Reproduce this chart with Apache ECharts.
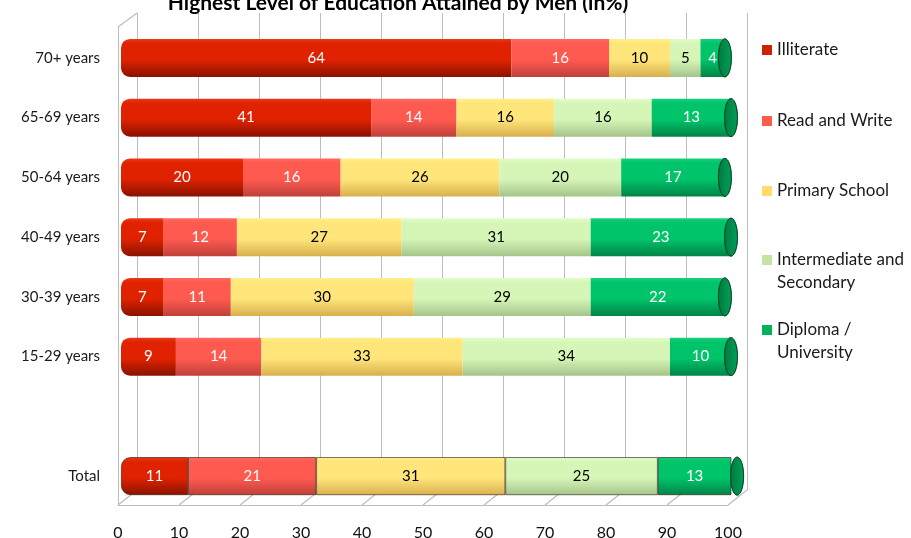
<!DOCTYPE html>
<html>
<head>
<meta charset="utf-8">
<script src="https://cdn.jsdelivr.net/npm/echarts@6/dist/echarts.min.js"></script>
<style>html,body{margin:0;padding:0;background:#fff}#c{width:911px;height:538px}</style>
</head>
<body>
<div id="c"></div>
<script>
// ---- data ----
const categories = ['70+ years', '65-69 years', '50-64 years', '40-49 years', '30-39 years', '15-29 years', '', 'Total'];
const seriesNames = ['Illiterate', 'Read and Write', 'Primary School', 'Intermediate and Secondary', 'Diploma / University'];
const illiterate   = [64, 41, 20, 7, 7, 9, null, 11];
const readWrite    = [16, 14, 16, 12, 11, 14, null, 21];
const primary      = [10, 16, 26, 27, 30, 33, null, 31];
const intermediate = [5, 16, 20, 31, 29, 34, null, 25];
const diploma      = [4, 13, 17, 23, 22, 10, null, 13];
const xTicks = [0, 10, 20, 30, 40, 50, 60, 70, 80, 90, 100];

// ---- styles ----
const FONT = 'Lato, "Open Sans", sans-serif';
const palette = [
  {top: '#ea3a1c', base: '#e02200', bot: '#8a1200', legend: '#cc2200', label: '#fff'},
  {top: '#ff6a60', base: '#ff5a50', bot: '#c0403a', legend: '#ff5b4f', label: '#fff'},
  {top: '#fff08a', base: '#ffe57a', bot: '#d8b04e', legend: '#ffdb6b', label: '#000'},
  {top: '#e4fcc8', base: '#d6f6b8', bot: '#a4c48a', legend: '#c5e3a5', label: '#000'},
  {top: '#18d07c', base: '#00c46a', bot: '#008448', legend: '#00b25a', label: '#fff'}
];
function grad(p) {
  return new echarts.graphic.LinearGradient(0, 0, 0, 1, [
    {offset: 0, color: p.top}, {offset: 0.12, color: p.base},
    {offset: 0.55, color: p.base}, {offset: 1, color: p.bot}
  ]);
}
const values = [illiterate, readWrite, primary, intermediate, diploma];
const totals = categories.map((c, i) => values.reduce((s, arr) => s + (arr[i] || 0), 0));

const TOTAL_IDX = categories.indexOf('Total');
const series = values.map((arr, k) => ({
  name: seriesNames[k],
  type: 'bar',
  stack: 'all',
  xAxisIndex: 1, yAxisIndex: 1,
  barWidth: 38,
  z: 3,
  data: arr.map((v, i) => {
    if (v == null) return '-';
    const d = {value: v};
    if (i === TOTAL_IDX) d.itemStyle = {borderColor: 'rgba(40,20,10,0.75)', borderWidth: 0.8};
    return d;
  }),
  itemStyle: {color: grad(palette[k]), borderRadius: k === 0 ? [9, 0, 0, 9] : 0},
  label: {show: true, position: 'inside', color: palette[k].label, fontFamily: FONT, fontSize: 15},
  emphasis: {disabled: true}
}));
// cylinder end caps at each bar's total
series.push({
  type: 'custom', name: 'cap', xAxisIndex: 1, yAxisIndex: 1, silent: true, z: 4,
  data: totals.map((t, i) => t ? [t, i] : null).filter(Boolean),
  renderItem: function (params, api) {
    const p = api.coord([api.value(0), api.value(1)]);
    return {type: 'ellipse', shape: {cx: p[0], cy: p[1], rx: 6.5, ry: 19},
      style: {fill: new echarts.graphic.LinearGradient(0, 0, 1, 0, [
        {offset: 0, color: '#007a40'}, {offset: 1, color: '#00a058'}]),
        stroke: '#004a24', lineWidth: 0.8}};
  }
});

const legendTops = [38.5, 109.5, 179.5, 225.5, 295.5];
const legendLabels = ['Illiterate', 'Read and Write', 'Primary School', ' \nIntermediate and\nSecondary', ' \nDiploma /\nUniversity'];
const legends = seriesNames.map((n, k) => ({
  left: 762, top: legendTops[k], padding: 0, orient: 'vertical',
  icon: 'rect', itemWidth: 10, itemHeight: 10, selectedMode: false,
  data: [{name: n, itemStyle: {color: palette[k].legend}}],
  formatter: () => legendLabels[k],
  textStyle: {fontFamily: FONT, fontSize: 17, color: '#1a1a1a', lineHeight: 23}
}));

const GRAY = '#bdbdbd';
const chart = echarts.init(document.getElementById('c'));
chart.setOption({
  animation: false,
  title: {text: 'Highest Level of Education Attained by Men (in%)', left: 393, textAlign: 'center', top: -12,
    textStyle: {fontFamily: FONT, fontSize: 21, fontWeight: 'bold', color: '#000'}},
  legend: legends,
  grid: [
    {left: 137, right: 164, top: 13, bottom: 48, outerBoundsMode: 'none'},   // back wall
    {left: 121, right: 180, top: 28, bottom: 32, outerBoundsMode: 'none'},   // bars
    {left: 118, right: 183, top: 27, bottom: 33, outerBoundsMode: 'none'}    // front plane / labels
  ],
  xAxis: [
    {gridIndex: 0, type: 'value', min: 0, max: 100, interval: 10, axisLabel: {show: false},
      axisLine: {show: false}, axisTick: {show: false}, splitLine: {show: true, lineStyle: {color: GRAY, width: 1}}},
    {gridIndex: 1, type: 'value', min: 0, max: 100, interval: 10, show: false},
    {gridIndex: 2, type: 'value', min: 0, max: 100, interval: 10, splitLine: {show: false},
      axisLine: {show: true, lineStyle: {color: GRAY}}, axisTick: {show: false},
      axisLabel: {margin: 20, fontFamily: FONT, fontSize: 16, color: '#111', formatter: v => xTicks.includes(v) ? String(v) : ''}}
  ],
  yAxis: [
    {gridIndex: 0, type: 'category', data: categories, show: false},
    {gridIndex: 1, type: 'category', data: categories, inverse: true, axisLine: {show: false}, axisTick: {show: false},
      axisLabel: {margin: 21, fontFamily: FONT, fontSize: 15, color: '#1a1a1a'}},
    {gridIndex: 2, type: 'value', min: 0, max: 1, axisLabel: {show: false}, axisTick: {show: false}, splitLine: {show: false},
      axisLine: {show: true, lineStyle: {color: GRAY}}}
  ],
  series: series
});

// perspective connectors between front plane and back wall
const frontY = 538 - 33, backY = 538 - 48, frontTop = 27, backTop = 13;
const g = [];
xTicks.forEach(v => {
  const fx = chart.convertToPixel({xAxisIndex: 2}, v);
  const bx = chart.convertToPixel({xAxisIndex: 0}, v);
  g.push({type: 'line', shape: {x1: fx, y1: frontY, x2: bx, y2: backY}, style: {stroke: GRAY, lineWidth: 1.2}, z: 1, silent: true});
});
const fx0 = chart.convertToPixel({xAxisIndex: 2}, 0), bx0 = chart.convertToPixel({xAxisIndex: 0}, 0);
g.push({type: 'line', shape: {x1: fx0, y1: frontTop, x2: bx0, y2: backTop}, style: {stroke: GRAY, lineWidth: 1.2}, z: 1, silent: true});
chart.setOption({graphic: g});
</script>
</body>
</html>
